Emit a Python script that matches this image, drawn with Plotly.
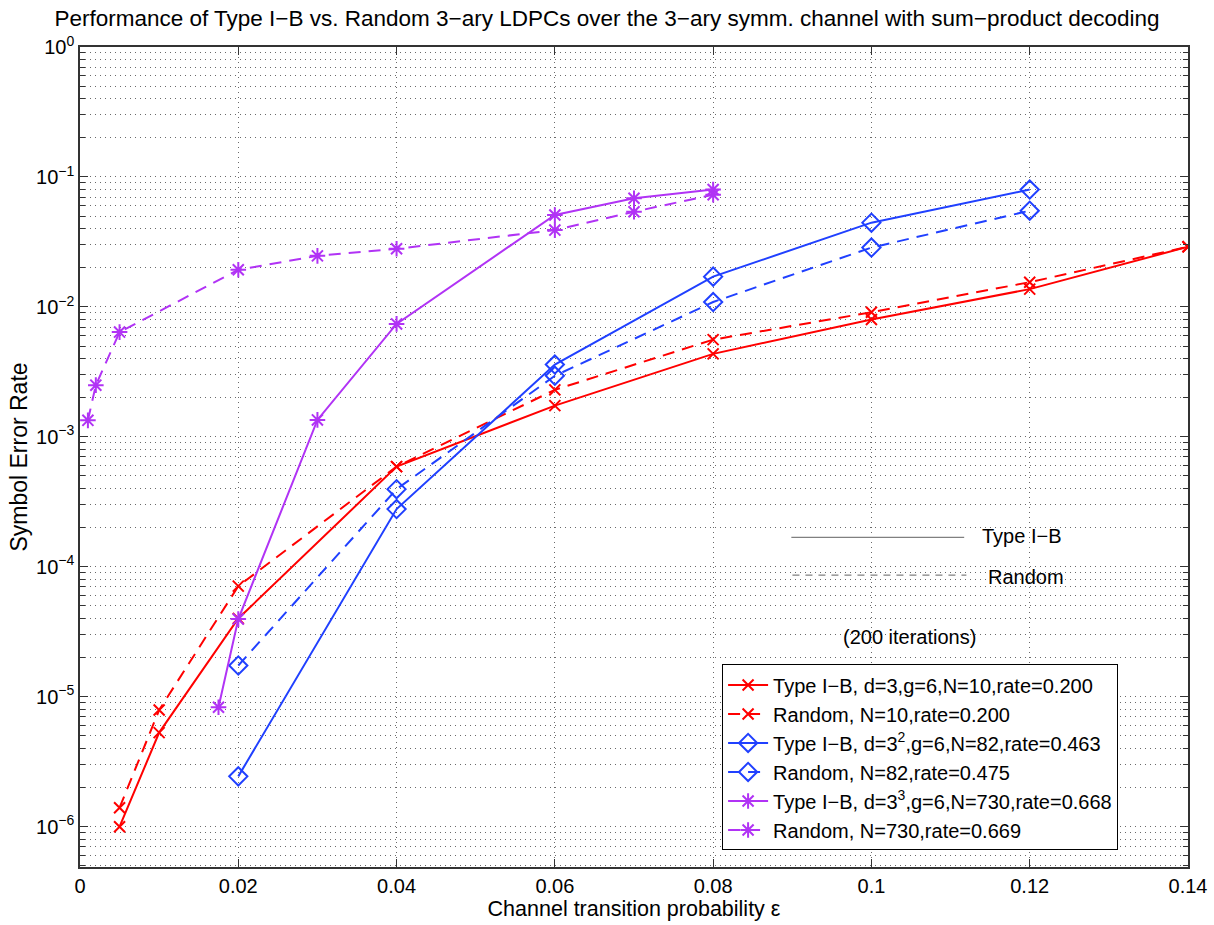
import plotly.graph_objects as go

# ------------------------------------------------------------------
# data
# ------------------------------------------------------------------
x_n10 = [0.005, 0.01, 0.02, 0.04, 0.06, 0.08, 0.10, 0.12, 0.14]
ser_typeib_n10 = [1.0e-6, 5.3e-6, 4.0e-5, 5.9e-4, 1.74e-3, 4.35e-3, 8.0e-3, 1.37e-2, 2.9e-2]
ser_random_n10 = [1.4e-6, 7.9e-6, 7.1e-5, 5.9e-4, 2.3e-3, 5.6e-3, 9.1e-3, 1.55e-2, 2.9e-2]

x_n82 = [0.02, 0.04, 0.06, 0.08, 0.10, 0.12]
ser_typeib_n82 = [2.44e-6, 2.78e-4, 3.6e-3, 1.71e-2, 4.45e-2, 8.0e-2]
ser_random_n82 = [1.74e-5, 3.96e-4, 2.95e-3, 1.09e-2, 2.86e-2, 5.5e-2]

x_typeib_n730 = [0.0175, 0.02, 0.03, 0.04, 0.06, 0.07, 0.08]
ser_typeib_n730 = [8.3e-6, 3.96e-5, 1.35e-3, 7.4e-3, 5.1e-2, 6.86e-2, 8.0e-2]
x_random_n730 = [0.001, 0.002, 0.005, 0.02, 0.03, 0.04, 0.06, 0.07, 0.08]
ser_random_n730 = [1.34e-3, 2.5e-3, 6.4e-3, 1.93e-2, 2.47e-2, 2.8e-2, 3.9e-2, 5.4e-2, 7.3e-2]

x_ticks = [0, 0.02, 0.04, 0.06, 0.08, 0.1, 0.12, 0.14]
x_ticktext = ["0", "0.02", "0.04", "0.06", "0.08", "0.1", "0.12", "0.14"]
y_ticks = [1e0, 1e-1, 1e-2, 1e-3, 1e-4, 1e-5, 1e-6]
y_ticktext = ["10<sup>0</sup>", "10<sup>−1</sup>", "10<sup>−2</sup>", "10<sup>−3</sup>",
              "10<sup>−4</sup>", "10<sup>−5</sup>", "10<sup>−6</sup>"]

RED = "#ff0000"
BLUE = "#2040ff"
PURPLE = "#b133f5"
FONT = "Liberation Sans, Arial, sans-serif"
DASH = "12px,8px"

fig = go.Figure()


def add_curve(x, y, name, color, symbol, dash, size):
    fig.add_trace(go.Scatter(
        x=x, y=y, name=name, mode="lines+markers",
        line=dict(color=color, width=2, dash=dash),
        marker=dict(symbol=symbol, size=size, color=color,
                    line=dict(color=color, width=2)),
    ))


add_curve(x_n10, ser_typeib_n10, "Type I−B, d=3,g=6,N=10,rate=0.200", RED, "x-thin-open", "solid", 11)
add_curve(x_n10, ser_random_n10, "Random, N=10,rate=0.200", RED, "x-thin-open", DASH, 11)
add_curve(x_n82, ser_typeib_n82, "Type I−B, d=3<sup>2</sup>,g=6,N=82,rate=0.463", BLUE, "diamond-open", "solid", 14)
add_curve(x_n82, ser_random_n82, "Random, N=82,rate=0.475", BLUE, "diamond-open", DASH, 14)
add_curve(x_typeib_n730, ser_typeib_n730, "Type I−B, d=3<sup>3</sup>,g=6,N=730,rate=0.668", PURPLE, "asterisk-open", "solid", 13)
add_curve(x_random_n730, ser_random_n730, "Random, N=730,rate=0.669", PURPLE, "asterisk-open", DASH, 13)

# --- line-style key and note inside the axes -----------------------
fig.add_shape(type="line", xref="x domain", yref="y domain",
              x0=0.642, x1=0.798, y0=0.402, y1=0.402,
              line=dict(color="#808080", width=1.2))
fig.add_shape(type="line", xref="x domain", yref="y domain",
              x0=0.643, x1=0.800, y0=0.356, y1=0.356,
              line=dict(color="#808080", width=1.2, dash="7px,6px"))
fig.add_annotation(xref="x domain", yref="y domain", x=0.812, y=0.404,
                   text="Type I−B", showarrow=False, xanchor="left", yanchor="middle",
                   font=dict(size=20, color="black"))
fig.add_annotation(xref="x domain", yref="y domain", x=0.818, y=0.354,
                   text="Random", showarrow=False, xanchor="left", yanchor="middle",
                   font=dict(size=20, color="black"))
fig.add_annotation(xref="x domain", yref="y domain", x=0.687, y=0.281,
                   text="(200 iterations)", showarrow=False, xanchor="left", yanchor="middle",
                   font=dict(size=20, color="black"))

axis_common = dict(
    showline=True, linecolor="#333333", linewidth=1.5, mirror="ticks",
    ticks="inside", tickcolor="#333333", ticklen=8,
    showgrid=True, gridcolor="#6a6a6a", griddash="1px,4px", gridwidth=1,
    zeroline=False, automargin=False,
    tickfont=dict(size=20, color="black", family=FONT),
)

fig.update_layout(
    width=1214, height=925,
    paper_bgcolor="white", plot_bgcolor="white",
    font=dict(family=FONT, color="black"),
    title=dict(text="Performance of Type I−B vs. Random 3−ary LDPCs over the 3−ary symm. channel with sum−product decoding",
               x=0.5, xanchor="center", y=0.9805, yanchor="middle",
               font=dict(size=22.5, color="black")),
    margin=dict(l=80, r=26, t=47, b=58),
    xaxis=dict(range=[0, 0.14], tickvals=x_ticks, ticktext=x_ticktext,
               title=dict(text="Channel transition probability ε", font=dict(size=21.5), standoff=2),
               **axis_common),
    yaxis=dict(type="log", range=[-6.31, 0], tickvals=y_ticks, ticktext=y_ticktext,
               title=dict(text="Symbol Error Rate", font=dict(size=23), standoff=2),
               minor=dict(dtick="D1", ticks="inside", ticklen=5, tickcolor="#333333",
                          showgrid=True, gridcolor="#6a6a6a", griddash="1px,4px", gridwidth=1),
               **axis_common),
    legend=dict(x=0.5795, y=0.247, xanchor="left", yanchor="top",
                bgcolor="white", bordercolor="black", borderwidth=1,
                font=dict(size=20, color="black"), tracegroupgap=0,
                itemwidth=40),
    showlegend=True,
)

fig.write_html("out.html", config={"displayModeBar": False},
               post_script="document.body.style.margin='0';")
